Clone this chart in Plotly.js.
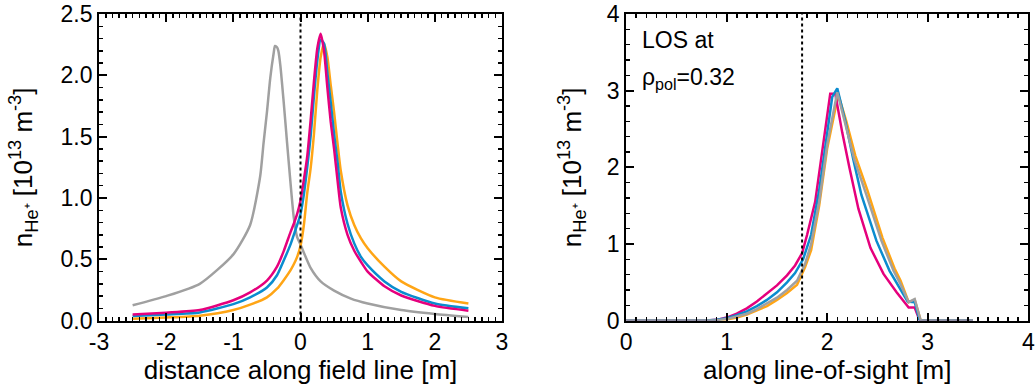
<!DOCTYPE html>
<html><head><meta charset="utf-8">
<script src="https://cdn.plot.ly/plotly-3.0.1.min.js"></script>
<style>html,body{margin:0;padding:0;background:#fff;}#plot{width:1035px;height:391px;}</style>
</head><body><div id="plot"></div>
<script>
// ---- Left panel: density along field line ----
const xField = [-2.5,-2,-1.5,-1,-0.75,-0.5,-0.35,-0.25,-0.15,-0.1,-0.05,0,0.05,0.1,0.15,0.2,0.25,0.3,0.35,0.4,0.45,0.5,0.55,0.6,0.7,0.8,0.9,1.0,1.25,1.5,2.0,2.5];
const fieldMagenta = [0.05,0.065,0.086,0.166,0.23,0.327,0.44,0.567,0.72,0.79,0.87,0.98,1.15,1.34,1.63,1.95,2.22,2.34,2.20,1.90,1.62,1.40,1.15,0.92,0.70,0.57,0.48,0.40,0.28,0.205,0.12,0.08];
const fieldBlue    = [0.038,0.05,0.067,0.134,0.19,0.27,0.37,0.49,0.62,0.70,0.78,0.87,1.03,1.25,1.50,1.83,2.12,2.29,2.26,2.02,1.78,1.52,1.30,1.05,0.79,0.63,0.52,0.45,0.32,0.235,0.14,0.10];
const fieldOrange  = [0.015,0.025,0.04,0.086,0.13,0.19,0.26,0.33,0.41,0.46,0.52,0.61,0.78,1.04,1.24,1.52,1.88,2.15,2.26,2.15,1.92,1.70,1.45,1.22,0.94,0.78,0.67,0.59,0.44,0.32,0.19,0.14];
const xFieldGray = [-2.5,-2,-1.5,-1,-0.75,-0.6,-0.55,-0.5,-0.45,-0.4,-0.38,-0.35,-0.33,-0.3,-0.25,-0.2,-0.15,-0.1,-0.05,0,0.15,0.3,0.5,0.75,1.0,1.5,2.0,2.5];
const fieldGray = [0.126,0.20,0.30,0.54,0.78,1.18,1.45,1.70,1.98,2.18,2.24,2.23,2.20,2.08,1.78,1.45,1.13,0.84,0.68,0.62,0.43,0.32,0.245,0.18,0.14,0.086,0.054,0.03];
const fieldMarkerX = 0.0;

// ---- Right panel: density along line of sight ----
const xLosMagenta = [0,0.8,0.9,1.0,1.1,1.2,1.3,1.4,1.5,1.6,1.68,1.75,1.8,1.88,1.96,2.03,2.08,2.15,2.22,2.31,2.43,2.56,2.69,2.81,2.87,2.92,3.45];
const losMagenta  = [0,0,0.01,0.04,0.09,0.16,0.25,0.35,0.46,0.59,0.72,0.88,1.12,1.55,2.28,2.96,2.96,2.45,2.0,1.46,0.95,0.61,0.37,0.17,0.17,0,0];
const xLosBlue = [0,0.8,0.9,1.0,1.1,1.2,1.3,1.4,1.5,1.6,1.68,1.76,1.84,1.92,2.0,2.05,2.1,2.18,2.26,2.34,2.42,2.49,2.62,2.72,2.8,2.87,2.92,3.45];
const losBlue  = [0,0,0.01,0.03,0.07,0.12,0.19,0.27,0.37,0.50,0.62,0.80,1.12,1.70,2.45,2.92,3.03,2.60,2.10,1.64,1.32,1.04,0.65,0.43,0.25,0.24,0,0];
const xLosGray = [0,0.8,0.9,1.0,1.1,1.2,1.3,1.4,1.5,1.6,1.7,1.78,1.84,1.92,2.0,2.1,2.18,2.27,2.39,2.46,2.54,2.66,2.72,2.81,2.87,2.93,3.45];
const losGray  = [0,0,0.005,0.02,0.05,0.09,0.15,0.22,0.30,0.40,0.52,0.74,1.00,1.55,2.30,2.98,2.55,2.10,1.64,1.35,1.04,0.65,0.50,0.24,0.28,0,0];
const xLosOrange = [0,0.8,0.9,1.0,1.1,1.2,1.3,1.4,1.5,1.6,1.7,1.78,1.84,1.92,2.0,2.11,2.19,2.28,2.4,2.47,2.55,2.67,2.73,2.81,2.87,2.93,3.45];
const losOrange  = [0,0,0.005,0.015,0.04,0.08,0.13,0.19,0.27,0.36,0.47,0.70,0.92,1.50,2.25,2.95,2.60,2.15,1.70,1.40,1.08,0.68,0.52,0.24,0.27,0,0];
const losMarkerX = 1.75;

const xTicksLeft = [-3,-2,-1,0,1,2,3];
const xTickTextLeft = ['-3','-2','-1','0','1','2','3'];

const C = {magenta:'#e5007d', blue:'#0a8ccf', orange:'#ffa515', gray:'#a0a0a0'};
const LW = 2.5;
function ln(x,y,c,xa,ya,smooth){
  const line = {color:c,width:LW};
  if(smooth){line.shape='spline';line.smoothing=0.6;}
  return {x:x,y:y,type:'scatter',mode:'lines',line:line,xaxis:xa,yaxis:ya,hoverinfo:'skip'};
}

const traces = [
  ln(xFieldGray, fieldGray, C.gray,'x','y',true),
  ln(xField, fieldOrange, C.orange,'x','y',true),
  ln(xField, fieldBlue, C.blue,'x','y',true),
  ln(xField, fieldMagenta, C.magenta,'x','y',true),
  {x:[fieldMarkerX,fieldMarkerX],y:[0,2.5],type:'scatter',mode:'lines',line:{color:'#000',width:2,dash:'dot'},xaxis:'x',yaxis:'y'},
  ln(xLosOrange, losOrange, C.orange,'x2','y2'),
  ln(xLosMagenta, losMagenta, C.magenta,'x2','y2'),
  ln(xLosBlue, losBlue, C.blue,'x2','y2'),
  ln(xLosGray, losGray, C.gray,'x2','y2'),
  {x:[losMarkerX,losMarkerX],y:[0,4],type:'scatter',mode:'lines',line:{color:'#000',width:2,dash:'dot'},xaxis:'x2',yaxis:'y2'}
];

const FONT = 'Liberation Sans, Arial, Helvetica, sans-serif';
const tf = {family:FONT,size:23,color:'#000'};
const ttf = {family:FONT,size:26,color:'#000'};
function ax(extra){return Object.assign({showline:true,linecolor:'#000',linewidth:2,mirror:'allticks',ticks:'inside',ticklen:8,tickwidth:2,tickcolor:'#000',showgrid:false,zeroline:false,tickfont:tf,ticklabeloverflow:'allow',fixedrange:true},extra);}
const mnr = (d)=>({dtick:d,ticklen:4,tickwidth:1.5,tickcolor:'#000',ticks:'inside'});
const ytitle = 'n<sub>He⁺</sub> [10<sup>13</sup> m<sup>-3</sup>]';
const YDOM = [0.18,0.964];
const layout = {
  width:1035,height:391,margin:{l:0,r:0,t:0,b:0},paper_bgcolor:'#fff',plot_bgcolor:'#fff',showlegend:false,
  font:{family:FONT,color:'#000'},
  xaxis: ax({domain:[0.0957,0.485],range:[-3,3],tickmode:'array',tickvals:xTicksLeft,ticktext:xTickTextLeft,anchor:'y',
    minor:mnr(0.1), title:{text:'distance along field line [m]',font:ttf,standoff:4}}),
  yaxis: ax({domain:YDOM,range:[0,2.5],dtick:0.5,tickformat:'.1f',anchor:'x',
    minor:mnr(0.1), title:{text:ytitle,font:ttf,standoff:20}}),
  xaxis2: ax({domain:[0.605,0.9935],range:[0,4],dtick:1,anchor:'y2',
    minor:mnr(0.1), title:{text:'along line-of-sight [m]',font:ttf,standoff:4}}),
  yaxis2: ax({domain:YDOM,range:[0,4],dtick:1,anchor:'x2',
    minor:mnr(0.2), title:{text:ytitle,font:ttf,standoff:18}}),
  annotations:[
    {xref:'x2',yref:'y2',x:0.14,y:3.66,text:'LOS at',showarrow:false,xanchor:'left',yanchor:'middle',font:{family:FONT,size:23,color:'#000'}},
    {xref:'x2',yref:'y2',x:0.14,y:3.16,text:'ρ<sub>pol</sub>=0.32',showarrow:false,xanchor:'left',yanchor:'middle',font:{family:FONT,size:23,color:'#000'}}
  ]
};
Plotly.newPlot('plot',traces,layout,{staticPlot:true,displayModeBar:false});
</script></body></html>
